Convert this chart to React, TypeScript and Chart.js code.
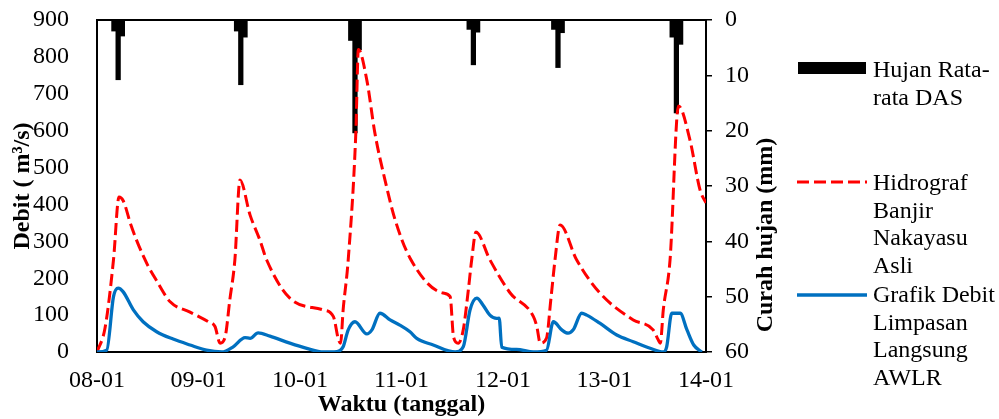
import React, { useEffect, useRef } from "react";
import { Chart, registerables } from "chart.js";

Chart.register(...registerables);

// ---------- data ----------
const dateLabels = ["08-01", "09-01", "10-01", "11-01", "12-01", "13-01", "14-01"];

// hourly rainfall (hours since 08-01 00:00, mm)
const rainHours = [4, 5, 6, 33, 34, 35, 60, 61, 62, 88, 89, 90, 108, 109, 110, 136, 137, 138];
const rainMm = [2.0, 10.8, 2.9, 2.0, 11.7, 3.1, 3.7, 20.4, 5.4, 1.7, 8.1, 2.2, 1.7, 8.6, 2.3, 3.1, 16.8, 4.4];

// Hidrograf Banjir Nakayasu Asli (hours, m3/s)
const nakayasuHours = [
  0, 1.9, 3.9, 5.2, 6.2, 8, 10, 12, 14, 17.3, 22, 26.3, 27.9, 29.1, 30.3, 31.4, 32.6, 33.8,
  36.2, 38.5, 40.1, 45.6, 53.5, 55.9, 57.1, 57.6, 58.2, 59.4, 61.2, 61.8, 63.8, 65.7, 68.1,
  70.5, 74.0, 81.8, 83.5, 84.3, 85.4, 86.6, 87.8, 88.6, 89.6, 92.9, 97.7, 103.2, 104.0,
  104.8, 106.3, 107.3, 108.3, 109.5, 113.4, 118.9, 126.8, 131.5, 132.7, 133.2, 133.9,
  135.5, 137.5, 140.2, 142.6, 144,
];
const nakayasuDebit = [
  0, 65, 250, 420, 410, 345, 285, 235, 195, 136, 108, 82, 69, 24, 41, 141, 250, 466,
  371, 304, 250, 146, 114, 96, 33, 24, 114, 250, 594, 820, 737, 594, 466,
  358, 255, 160, 150, 41, 24, 60, 168, 250, 325, 250, 160, 96, 69,
  24, 38, 141, 250, 344, 250, 160, 87, 60, 33, 24, 114,
  250, 667, 575, 439, 404,
];

// Grafik Debit Limpasan Langsung AWLR (hours, m3/s)
const awlrHours = [
  0, 2.3, 3.9, 5.0, 6.2, 8.6, 10.9, 14.1, 18.0, 22.0, 25.9, 29.5, 32.2, 35.0, 36.2, 38.1,
  40.9, 45.6, 49.6, 53.5, 56.7, 58.2, 59.4, 61.0, 63.8, 65.0, 66.9, 69.3, 71.6, 74.0, 75.6,
  79.5, 84.7, 86.6, 88.2, 89.8, 91.3, 92.9, 94.5, 95.1, 95.7, 99.2, 103.2, 106.3, 107.9,
  109.9, 111.4, 112.6, 114.6, 115.8, 118.9, 122.9, 126.8, 130.8, 133.9, 134.7, 135.9,
  137.9, 139.5, 141.1, 143.0,
];
const awlrDebit = [
  0, 5, 150, 173, 163, 114, 82, 55, 35, 19, 5, 0, 14, 39, 37, 52,
  43, 24, 10, 0, 1, 14, 60, 82, 49, 60, 105, 87, 73, 55, 37,
  19, 0, 14, 114, 146, 127, 100, 91, 92, 13, 7, 0, 5, 82,
  60, 51, 60, 105, 100, 78, 46, 28, 10, 0, 14, 105,
  105, 60, 19, 0,
];

const legendRain = ["Hujan Rata-", "rata DAS"];
const legendNakayasu = ["Hidrograf", "Banjir", "Nakayasu", "Asli"];
const legendAwlr = ["Grafik Debit", "Limpasan", "Langsung", "AWLR"];

const xTitle = "Waktu (tanggal)";
const yTitle = "Debit ( m\u00B3/s)";
const y2Title = "Curah hujan (mm)";

// ---------- styles ----------
const FONT = "'Liberation Serif', 'Times New Roman', serif";
const W = 999;
const H = 419;

export default function App() {
  const ref = useRef<HTMLCanvasElement | null>(null);

  useEffect(() => {
    if (!ref.current) return;
    const tickFont = { family: FONT, size: 24 };
    const titleFont = { family: FONT, size: 24, weight: "bold" as const };

    const framePlugin = {
      id: "frame",
      beforeDatasetsDraw(chart: any) {
        const { ctx, chartArea } = chart;
        ctx.save();
        ctx.strokeStyle = "#000";
        ctx.lineWidth = 2;
        ctx.strokeRect(chartArea.left, chartArea.top, chartArea.right - chartArea.left, chartArea.bottom - chartArea.top);
        ctx.restore();
      },
      afterDraw(chart: any) {
        const { ctx } = chart;
        ctx.save();
        ctx.translate(766, 235);
        ctx.rotate(-Math.PI / 2);
        ctx.font = `bold 24px ${FONT}`;
        ctx.fillStyle = "#000";
        ctx.textAlign = "center";
        ctx.textBaseline = "middle";
        ctx.fillText(y2Title, 0, 0);
        ctx.restore();
      },
    };

    const chart = new Chart(ref.current, {
      type: "line",
      data: {
        datasets: [
          {
            type: "line",
            label: legendAwlr.join(" "),
            data: awlrHours.map((h, i) => ({ x: h, y: awlrDebit[i] })),
            borderColor: "#0070C0",
            borderWidth: 3.3,
            pointRadius: 0,
            cubicInterpolationMode: "monotone",
            xAxisID: "x",
            yAxisID: "y",
          },
          {
            type: "line",
            label: legendNakayasu.join(" "),
            data: nakayasuHours.map((h, i) => ({ x: h, y: nakayasuDebit[i] })),
            borderColor: "#FF0000",
            borderWidth: 3,
            borderDash: [12, 5],
            pointRadius: 0,
            cubicInterpolationMode: "monotone",
            xAxisID: "x",
            yAxisID: "y",
          },
          {
            type: "bar",
            label: legendRain.join(""),
            data: rainHours.map((h, i) => ({ x: h, y: rainMm[i] })),
            backgroundColor: "#000",
            borderWidth: 0,
            barThickness: 4.6,
            xAxisID: "x",
            yAxisID: "y2",
          },
        ] as any,
      },
      options: {
        responsive: false,
        animation: false,
        devicePixelRatio: 1,
        layout: { padding: { left: 0, top: 20, right: 229, bottom: 0 } },
        plugins: { legend: { display: false }, tooltip: { enabled: false } },
        scales: {
          x: {
            type: "linear",
            position: "bottom",
            min: 0,
            max: 144,
            offset: false,
            ticks: {
              stepSize: 24,
              autoSkip: false,
              maxRotation: 0,
              padding: 6,
              color: "#000",
              font: tickFont,
              callback: (v: any) => dateLabels[Math.round(Number(v) / 24)] ?? "",
            },
            grid: { display: false },
            border: { display: false },
            title: { display: true, text: xTitle, color: "#000", font: titleFont, padding: { top: 0, bottom: 0 } },
            afterFit: (s: any) => {
              s.height = 67;
            },
          },
          y: {
            position: "left",
            min: 0,
            max: 900,
            ticks: { stepSize: 100, padding: 20, color: "#000", font: tickFont },
            grid: { display: false },
            border: { display: false },
            title: { display: true, text: yTitle, color: "#000", font: titleFont, padding: { top: 8, bottom: 0 } },
            afterFit: (s: any) => {
              s.width = 97;
              s.paddingTop = 0;
              s.paddingBottom = 0;
            },
          },
          y2: {
            position: "right",
            min: 0,
            max: 60,
            reverse: true,
            ticks: { stepSize: 10, padding: 13, color: "#000", font: tickFont },
            grid: { display: true, drawOnChartArea: false, drawTicks: true, tickLength: 6, color: "#000", lineWidth: 1.5 },
            border: { display: false },
            afterFit: (s: any) => {
              s.width = 64;
              s.paddingTop = 0;
              s.paddingBottom = 0;
            },
          },
        },
      } as any,
      plugins: [framePlugin],
    });
    return () => chart.destroy();
  }, []);

  const textStyle: React.CSSProperties = {
    position: "absolute",
    left: 873,
    fontFamily: FONT,
    fontSize: 24,
    lineHeight: "27.6px",
    color: "#000",
    whiteSpace: "nowrap",
  };

  return (
    <div style={{ position: "absolute", left: 0, top: 0, width: W, height: H, background: "#fff" }}>
      <canvas ref={ref} width={W} height={H} style={{ position: "absolute", left: 0, top: 0, width: W, height: H }} />
      <div style={{ position: "absolute", left: 798, top: 62, width: 68, height: 12, background: "#000" }} />
      <svg style={{ position: "absolute", left: 797, top: 176 }} width={70} height={12}>
        <line x1={0} y1={6} x2={70} y2={6} stroke="#FF0000" strokeWidth={3} strokeDasharray="12 5" />
      </svg>
      <svg style={{ position: "absolute", left: 797, top: 289 }} width={70} height={12}>
        <line x1={0} y1={6} x2={70} y2={6} stroke="#0070C0" strokeWidth={3.5} />
      </svg>
      <div style={{ ...textStyle, top: 56 }}>
        {legendRain.map((t, i) => (
          <div key={i}>{t}</div>
        ))}
      </div>
      <div style={{ ...textStyle, top: 169 }}>
        {legendNakayasu.map((t, i) => (
          <div key={i}>{t}</div>
        ))}
      </div>
      <div style={{ ...textStyle, top: 281 }}>
        {legendAwlr.map((t, i) => (
          <div key={i}>{t}</div>
        ))}
      </div>
    </div>
  );
}
